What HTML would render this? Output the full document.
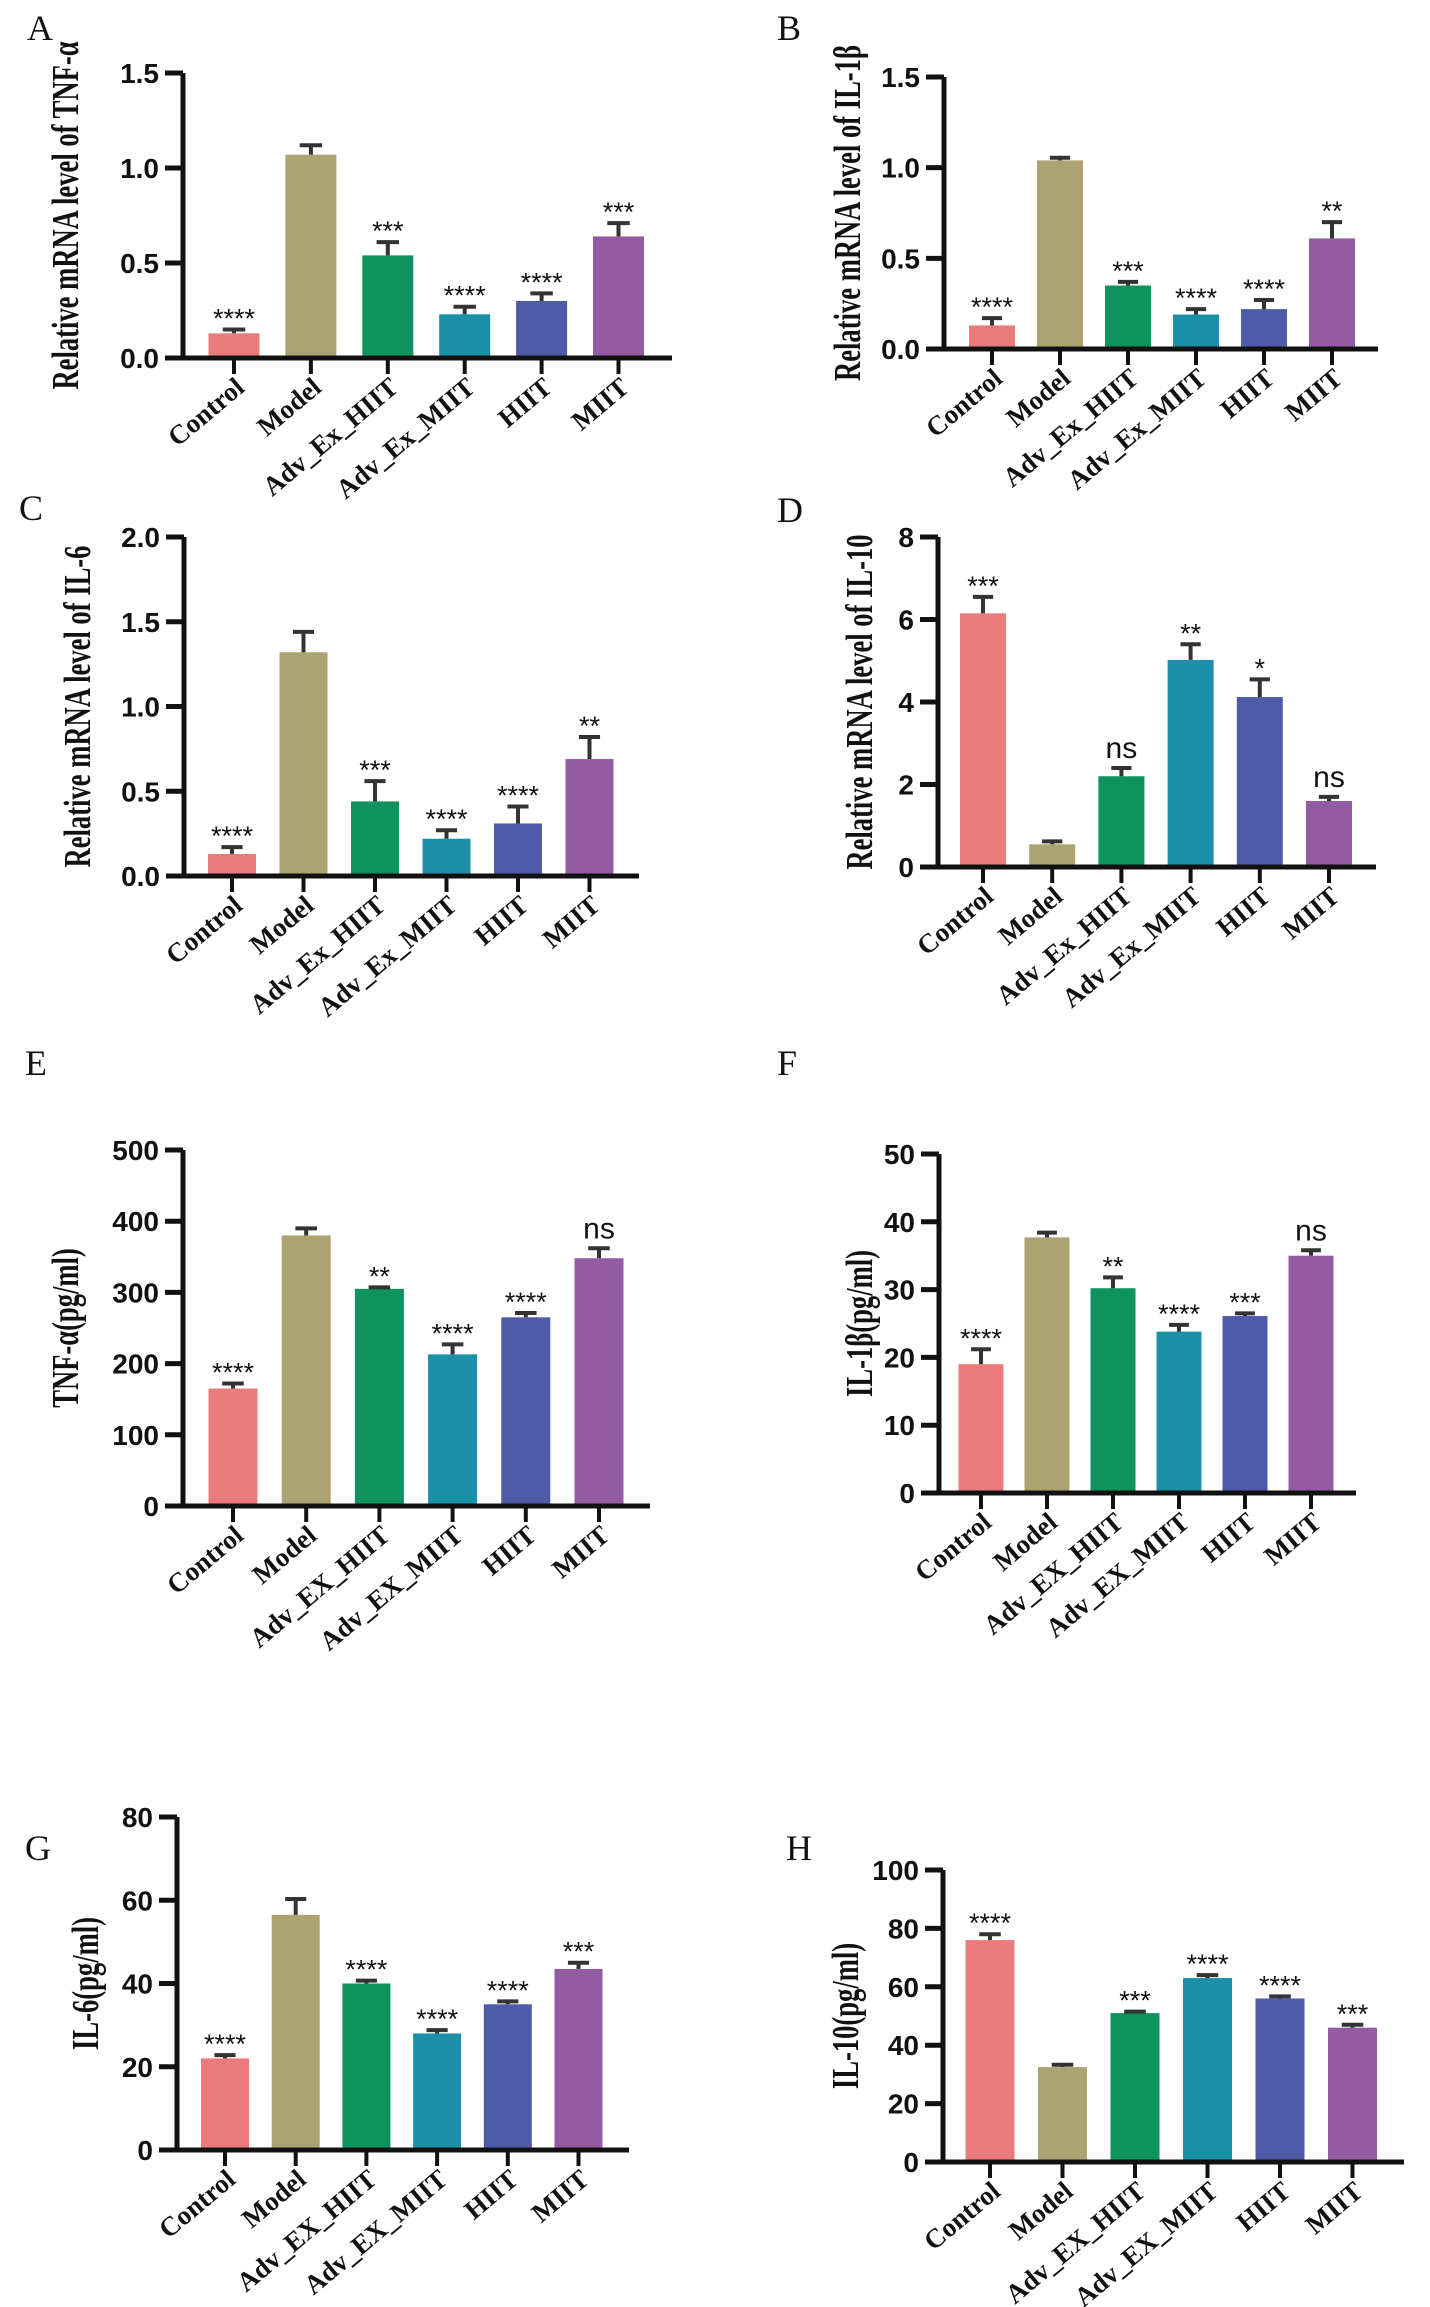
<!DOCTYPE html>
<html><head><meta charset="utf-8"><style>
html,body{margin:0;padding:0;background:#fff;}
svg{display:block;}
.tick{font-family:"Liberation Sans",sans-serif;font-weight:bold;font-size:28px;fill:#111;}
.cat{font-family:"Liberation Serif",serif;font-weight:bold;font-size:27px;fill:#111;}
.ytitle{font-family:"Liberation Serif",serif;font-weight:bold;font-size:38px;fill:#111;}
.star{font-family:"Liberation Sans",sans-serif;font-size:27px;fill:#111;}
.ns{font-family:"Liberation Sans",sans-serif;font-size:30px;fill:#111;}
.plabel{font-family:"Liberation Serif",serif;font-size:36px;fill:#111;}
</style></head><body>
<svg id="fig" width="1430" height="2307" viewBox="0 0 1430 2307" xmlns="http://www.w3.org/2000/svg"></svg>
<script>
const colors=["#EB7B7B","#ADA372","#0E935E","#1B90A8","#4E5BA8","#935BA1"];
const catsEx=["Control","Model","Adv_Ex_HIIT","Adv_Ex_MIIT","HIIT","MIIT"];
const catsEX=["Control","Model","Adv_EX_HIIT","Adv_EX_MIIT","HIIT","MIIT"];

const valsA=[0.13,1.07,0.54,0.23,0.30,0.64];
const errA=[0.15,1.12,0.61,0.27,0.34,0.71];
const sigA=["****","","***","****","****","***"];
const ticksA=["0.0","0.5","1.0","1.5"];

const valsB=[0.13,1.04,0.35,0.19,0.22,0.61];
const errB=[0.17,1.055,0.37,0.22,0.27,0.70];
const sigB=["****","","***","****","****","**"];
const ticksB=["0.0","0.5","1.0","1.5"];

const valsC=[0.13,1.32,0.44,0.22,0.31,0.69];
const errC=[0.17,1.44,0.56,0.27,0.41,0.82];
const sigC=["****","","***","****","****","**"];
const ticksC=["0.0","0.5","1.0","1.5","2.0"];

const valsD=[6.15,0.55,2.2,5.02,4.12,1.6];
const errD=[6.55,0.62,2.4,5.4,4.55,1.7];
const sigD=["***","","ns","**","*","ns"];
const ticksD=["0","2","4","6","8"];

const valsE=[165,380,305,213,265,348];
const errE=[172,390,307,227,271,362];
const sigE=["****","","**","****","****","ns"];
const ticksE=["0","100","200","300","400","500"];

const valsF=[19,37.7,30.2,23.8,26.1,35];
const errF=[21.2,38.4,31.8,24.8,26.5,35.8];
const sigF=["****","","**","****","***","ns"];
const ticksF=["0","10","20","30","40","50"];

const valsG=[22,56.5,40,28,35,43.5];
const errG=[22.8,60.3,40.7,28.8,35.7,45];
const sigG=["****","","****","****","****","***"];
const ticksG=["0","20","40","60","80"];

const valsH=[76,32.5,51,63,56,46];
const errH=[78,33.3,51.5,64,56.7,47];
const sigH=["****","","***","****","****","***"];
const ticksH=["0","20","40","60","80","100"];

const NS="http://www.w3.org/2000/svg";
const svg=document.getElementById('fig');
function mk(tag,attrs,parent){const e=document.createElementNS(NS,tag);for(const k in attrs)e.setAttribute(k,attrs[k]);(parent||svg).appendChild(e);return e;}

function panel(id,letter,lx,ly,title,cats,vals,errs,sigs,ticks,L){
  const g=mk('g',{});
  
  
  const ymax=parseFloat(ticks[ticks.length-1]);
  const yS=v=>L.y0-(v/ymax)*(L.y0-L.yTop);
  const xS=i=>L.x1+i*L.step;
  const pl=mk('text',{x:lx,y:ly,'class':'plabel'},g);pl.textContent=letter;
  
  
  vals.forEach((v,i)=>{
    const r=mk('rect',{x:xS(i)-L.bw/2,y:yS(v),width:L.bw,height:L.y0-yS(v),fill:colors[i]},g);
    
    
    const ex=xS(i);
    const e1=mk('line',{x1:ex,x2:ex,y1:yS(v),y2:yS(errs[i]),stroke:'#333','stroke-width':4},g);
    
    
    const e2=mk('line',{x1:ex-L.bw*0.22,x2:ex+L.bw*0.22,y1:yS(errs[i]),y2:yS(errs[i]),stroke:'#333','stroke-width':4},g);
    
    
    if(sigs[i]){
      const isNs=sigs[i]==='ns';
      const t=mk('text',{x:ex,y:yS(errs[i])-(isNs?10:2),'text-anchor':'middle','class':isNs?'ns':'star'},g);
      t.textContent=sigs[i];
      
      
    }
    const tk=mk('line',{x1:ex,x2:ex,y1:L.y0,y2:L.y0+16,stroke:'#111','stroke-width':4},g);
    
    
    const c=mk('text',{x:0,y:0,'text-anchor':'end','class':'cat',transform:`translate(${ex+12},${L.y0+32}) rotate(-40)`},g);
    c.textContent=cats[i];
    
    
  });
  const ya=mk('line',{x1:L.ax,x2:L.ax,y1:L.yTop,y2:L.y0+2,stroke:'#111','stroke-width':5},g);
  
  
  const xa=mk('line',{x1:L.ax-18,x2:L.xEnd,y1:L.y0,y2:L.y0,stroke:'#111','stroke-width':5},g);
  
  
  ticks.forEach(tv=>{
    const y=yS(parseFloat(tv));
    const l=mk('line',{x1:L.ax-18,x2:L.ax,y1:y,y2:y,stroke:'#111','stroke-width':5},g);
    
    
    const t=mk('text',{x:L.ax-24,y:y+10,'text-anchor':'end','class':'tick'},g);
    t.textContent=tv;
    
    
  });
  const ty=(L.y0+L.yTop)/2;
  const tt=mk('text',{x:0,y:0,'text-anchor':'middle','class':'ytitle',transform:`translate(${L.tx},${ty}) rotate(-90) scale(0.7,1)`},g);
  tt.textContent=title;
  
  
}

panel('a','A',27,40,'Relative mRNA level of  TNF-α',catsEx,valsA,errA,sigA,ticksA,{ax:183,xEnd:672,yTop:73,y0:358,x1:234,step:76.9,bw:51,tx:78});
panel('b','B',777,40,'Relative mRNA level of IL-1β',catsEx,valsB,errB,sigB,ticksB,{ax:944,xEnd:1378,yTop:77,y0:349,x1:992,step:68,bw:46,tx:860});
panel('c','C',19,520,'Relative mRNA level of IL-6',catsEx,valsC,errC,sigC,ticksC,{ax:184,xEnd:639,yTop:537,y0:876,x1:232,step:71.5,bw:48,tx:90});
panel('d','D',777,522,'Relative mRNA level of IL-10',catsEx,valsD,errD,sigD,ticksD,{ax:938,xEnd:1376,yTop:537,y0:867,x1:983,step:69.2,bw:46,tx:872});
panel('e','E',25,1075,'TNF-α(pg/ml)',catsEX,valsE,errE,sigE,ticksE,{ax:183,xEnd:650,yTop:1150,y0:1506,x1:233,step:73.2,bw:49,tx:78});
panel('f','F',777,1075,'IL-1β(pg/ml)',catsEX,valsF,errF,sigF,ticksF,{ax:939,xEnd:1356,yTop:1154,y0:1493,x1:981,step:66,bw:45,tx:872});
panel('g','G',25,1860,'IL-6(pg/ml)',catsEX,valsG,errG,sigG,ticksG,{ax:177,xEnd:629,yTop:1817,y0:2150,x1:225,step:70.7,bw:48,tx:98});
panel('h','H',786,1860,'IL-10(pg/ml)',catsEX,valsH,errH,sigH,ticksH,{ax:943,xEnd:1404,yTop:1870,y0:2162,x1:990,step:72.5,bw:49,tx:858});
</script>
</body></html>
